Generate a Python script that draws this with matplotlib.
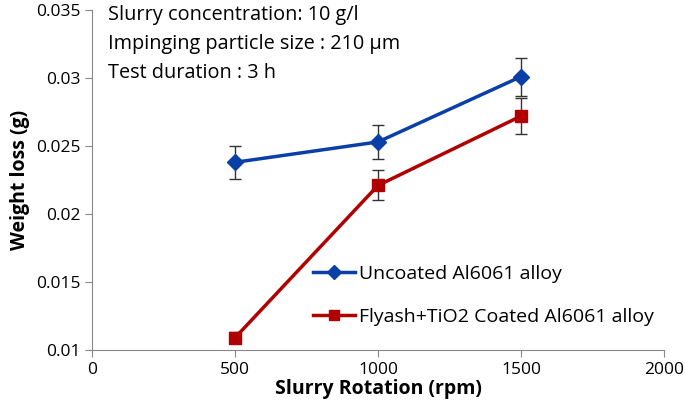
import matplotlib
matplotlib.use("Agg")
import matplotlib.pyplot as plt
from matplotlib.lines import Line2D

x = [500, 1000, 1500]
uncoated = [0.0238, 0.0253, 0.0301]
uncoated_err = [0.0012, 0.00125, 0.0014]
coated = [0.0109, 0.0221, 0.0272]
coated_err = [0.0004, 0.0011, 0.0013]
labels = ["Uncoated Al6061 alloy", "Flyash+TiO2 Coated Al6061 alloy"]
notes = ["Slurry concentration: 10 g/l", "Impinging particle size : 210 \u00b5m", "Test duration : 3 h"]

plt.rcParams['font.family'] = ['Open Sans', 'DejaVu Sans']

blue = '#0A3FA8'
red = '#B00000'

fig = plt.figure(figsize=(6.85, 4.09), dpi=100)
ax = fig.add_axes([92/685, 1-350/409, (664-92)/685, (350-10)/409])

ax.errorbar(x, uncoated, yerr=uncoated_err, color=blue, marker='D', markersize=8,
            linewidth=2.5, ecolor='#333333', elinewidth=1, capsize=4)
ax.errorbar(x, coated, yerr=coated_err, color=red, marker='s', markersize=8,
            linewidth=2.5, ecolor='#333333', elinewidth=1, capsize=4)

ax.set_xlim(0, 2000)
ax.set_ylim(0.01, 0.035)
ax.set_xticks([0, 500, 1000, 1500, 2000])
ax.set_xticklabels(['0', '500', '1000', '1500', '2000'])
ax.set_yticks([0.01, 0.015, 0.02, 0.025, 0.03, 0.035])
ax.set_yticklabels(['0.01', '0.015', '0.02', '0.025', '0.03', '0.035'])
for s in ['top', 'right']:
    ax.spines[s].set_visible(False)
for s in ['left', 'bottom']:
    ax.spines[s].set_color('#888888')
ax.tick_params(direction='out', length=5, color='#888888', labelsize=12.5)
ax.set_xlabel('Slurry Rotation (rpm)', fontsize=14, fontweight='bold', labelpad=1)
ax.set_ylabel('Weight loss (g)', fontsize=14, fontweight='bold', labelpad=4)

for i, t in enumerate(notes):
    ax.text(108/685, 1-(15+29*i)/409, t, transform=fig.transFigure, fontsize=14.3, va='center')

handles = [Line2D([], [], color=blue, marker='D', markersize=7, linewidth=2.5),
           Line2D([], [], color=red, marker='s', markersize=7, linewidth=2.5)]
ax.legend(handles, labels, loc='upper left', bbox_to_anchor=((313-92)/572, (350-265)/340),
          frameon=False, fontsize=14, borderpad=0, borderaxespad=0,
          handlelength=2.15, labelspacing=1.3, handletextpad=0.2)

fig.savefig('out.png', dpi=100)
